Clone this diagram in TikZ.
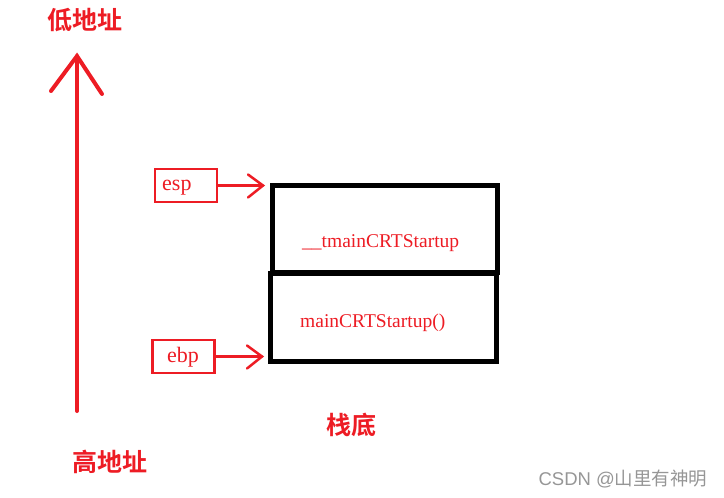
\documentclass[tikz,border=0pt]{standalone}
\usepackage{fontspec}
\setmainfont{Liberation Serif}
\newfontfamily\cjk{Noto Sans CJK SC}
\newfontfamily\cjkb{Noto Sans CJK SC Bold}
\newfontfamily\wm{Liberation Sans}
\definecolor{myred}{RGB}{237,28,36}
\definecolor{wmgray}{RGB}{150,150,150}
\tikzset{
  redbox/.style={draw=myred, line width=2.5pt, minimum width=62pt, minimum height=33pt, inner sep=0pt},
  regtext/.style={text=myred, font=\fontsize{22}{22}\selectfont, anchor=base west, inner sep=0pt},
  stackbox/.style={draw=black, line width=5pt, minimum width=225pt, minimum height=87pt, inner sep=0pt},
  stacktext/.style={text=myred, font=\fontsize{19.5}{19.5}\selectfont, anchor=base west, inner sep=0pt},
  redline/.style={draw=myred, line width=2.5pt, line cap=round},
  bigline/.style={draw=myred, line width=4pt, line cap=round},
  cjklabel/.style={text=myred, font=\cjkb\fontsize{25}{25}\selectfont, inner sep=0pt}
}
\begin{document}
\begin{tikzpicture}[x=1pt,y=-1pt]
\useasboundingbox (0,0) rectangle (724,498);
% labels
\node[cjklabel] (low) at (85,20) {低地址};
\node[cjklabel] (high) at (110,462) {高地址};
\node[cjklabel] (bottom) at (351,425) {栈底};
% big arrow
\coordinate (atop) at (77,56);
\coordinate (abot) at (77,411);
\coordinate (al) at (51,91);
\coordinate (ar) at (102,94);
\draw[bigline] (abot) -- (atop);
\draw[bigline] (al) -- (atop) -- (ar);
% stack boxes
\node[stackbox] (box1) at (384.5,228.5) {};
\node[stacktext] (t1) at (302,247) {\_\_tmainCRTStartup};
\node[stackbox, minimum width=226pt, minimum height=88pt] (box2) at (383,317.5) {};
\node[stacktext] (t2) at (300,327) {mainCRTStartup()};
% registers
\node[redbox] (esp) at (186,185.5) {};
\node[regtext] (esptext) at (162,190) {esp};
\node[redbox] (ebp) at (183.5,356.5) {};
\node[regtext] (ebptext) at (167,362) {ebp};
\coordinate (espend) at (263,185.5);
\coordinate (ebpend) at (262,356.5);
\draw[redline] (esp.east) -- (espend);
\draw[redline] (248,174.5) -- (espend) -- (248,197.5);
\draw[redline] (ebp.east) -- (ebpend);
\draw[redline] (247,345.5) -- (ebpend) -- (247,368.5);
% watermark
\node[text=wmgray, font=\fontsize{18.5}{18.5}\selectfont, inner sep=0pt] (wmk) at (623,479) {{\wm CSDN @}{\cjk 山里有神明}};
\end{tikzpicture}
\end{document}
